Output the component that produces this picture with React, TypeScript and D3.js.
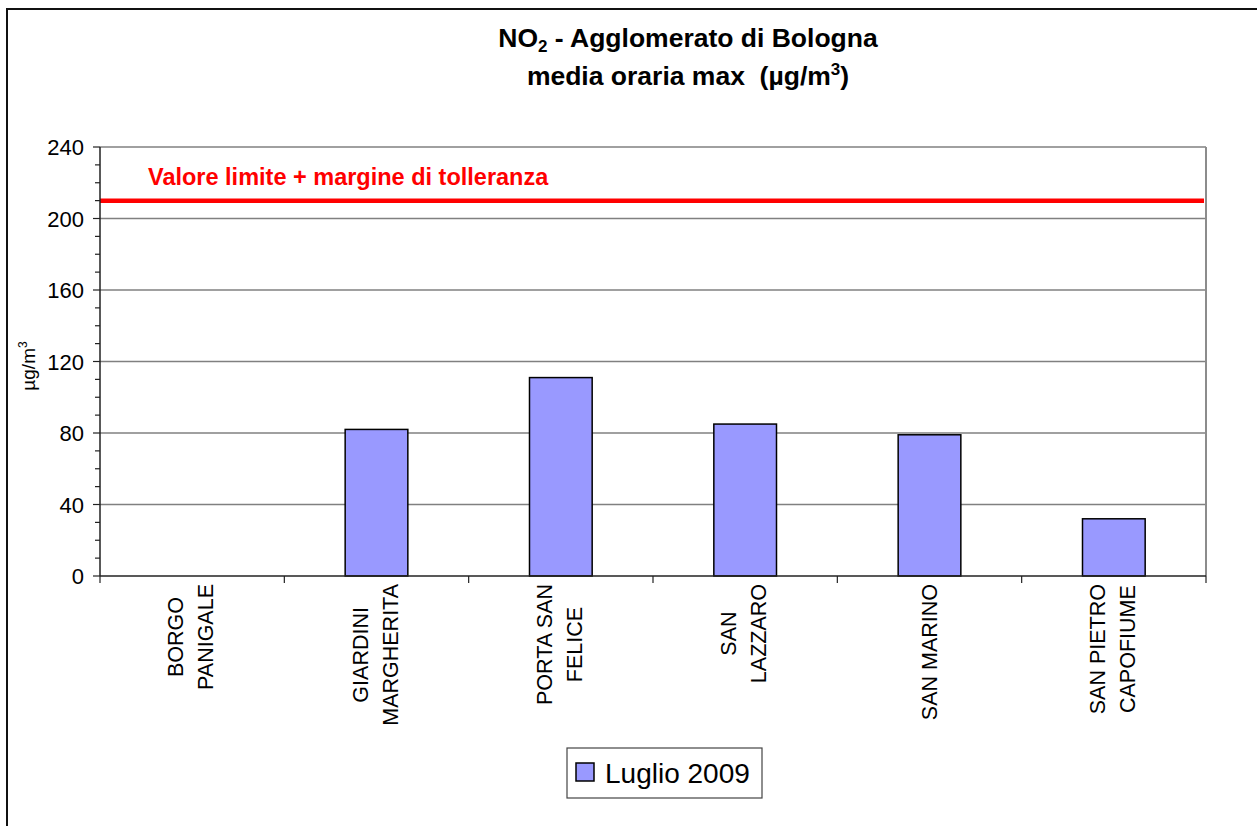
import React, { useRef, useEffect } from 'react';
import * as d3 from 'd3';

// stazioni e valori (media oraria max, luglio 2009)
const stations = [
  ['BORGO', 'PANIGALE'],
  ['GIARDINI', 'MARGHERITA'],
  ['PORTA SAN', 'FELICE'],
  ['SAN', 'LAZZARO'],
  ['SAN MARINO'],
  ['SAN PIETRO', 'CAPOFIUME'],
];
const july2009: (number | null)[] = [null, 82, 111, 85, 79, 32];
const yTicks = [0, 40, 80, 120, 160, 200, 240];
const limitValue = 210;
const limitLabel = 'Valore limite + margine di tolleranza';
const seriesName = 'Luglio 2009';

const App = () => {
  const svgRef = useRef<SVGSVGElement>(null);
  const width = 1257;
  const height = 826;
  const plot = { left: 100, right: 1206, top: 147, bottom: 576 };

  useEffect(() => {
    const svg = d3.select(svgRef.current);
    svg.selectAll('*').remove();
    const font = 'Arial, "Liberation Sans", sans-serif';

    const keys = stations.map(s => s.join(' '));
    const x = d3.scaleBand().domain(keys).range([plot.left, plot.right]).padding(0);
    const y = d3.scaleLinear().domain([0, 240]).range([plot.bottom, plot.top]);

    // outer chart frame
    svg.append('rect')
      .attr('x', 7).attr('y', 9)
      .attr('width', 1300).attr('height', 900)
      .attr('fill', 'white')
      .attr('stroke', '#111').attr('stroke-width', 2);

    // title
    const title = svg.append('text')
      .attr('font-family', font).attr('font-weight', 'bold').attr('font-size', 26.5)
      .attr('text-anchor', 'middle').style('white-space', 'pre');
    const t1 = title.append('tspan').attr('x', 688).attr('y', 47);
    t1.append('tspan').text('NO');
    t1.append('tspan').attr('font-size', 17).attr('dy', 5).text('2');
    t1.append('tspan').attr('dy', -5).text(' - Agglomerato di Bologna');
    const t2 = title.append('tspan').attr('x', 688).attr('y', 85);
    t2.append('tspan').text('media oraria max  (µg/m');
    t2.append('tspan').attr('font-size', 17).attr('dy', -10).text('3');
    t2.append('tspan').attr('dy', 10).text(')');

    // gridlines
    svg.append('g')
      .selectAll('line')
      .data(yTicks.filter(d => d > 0))
      .join('line')
      .attr('x1', plot.left).attr('x2', plot.right)
      .attr('y1', d => y(d)).attr('y2', d => y(d))
      .attr('stroke', '#808080').attr('stroke-width', 1.5);

    // plot border right
    svg.append('line')
      .attr('x1', plot.right).attr('x2', plot.right)
      .attr('y1', plot.top).attr('y2', plot.bottom)
      .attr('stroke', '#8c8c8c').attr('stroke-width', 2);

    // bars
    const barW = x.bandwidth() * 0.34;
    svg.append('g')
      .selectAll('rect')
      .data(keys.map((k, i) => ({ k, v: july2009[i] })).filter(d => d.v != null))
      .join('rect')
      .attr('x', d => (x(d.k) as number) + x.bandwidth() / 2 - barW / 2)
      .attr('y', d => y(d.v as number))
      .attr('width', barW)
      .attr('height', d => plot.bottom - y(d.v as number))
      .attr('fill', '#9999FF')
      .attr('stroke', '#000').attr('stroke-width', 1.5);

    // limit line
    svg.append('line')
      .attr('x1', plot.left).attr('x2', plot.right - 2)
      .attr('y1', y(limitValue)).attr('y2', y(limitValue))
      .attr('stroke', '#FF0000').attr('stroke-width', 4.5);
    svg.append('text')
      .attr('x', 148).attr('y', 185)
      .attr('font-family', font).attr('font-weight', 'bold').attr('font-size', 23.5)
      .attr('fill', '#FF0000')
      .text(limitLabel);

    // y axis
    const yAxis = svg.append('g').attr('stroke', '#222');
    yAxis.append('line')
      .attr('x1', plot.left).attr('x2', plot.left)
      .attr('y1', plot.top).attr('y2', plot.bottom)
      .attr('stroke-width', 1.5);
    yAxis.selectAll('line.minor')
      .data(d3.range(0, 241, 10))
      .join('line')
      .attr('class', 'minor')
      .attr('x1', d => (d % 40 === 0 ? plot.left - 7 : plot.left - 5)).attr('x2', plot.left)
      .attr('y1', d => y(d)).attr('y2', d => y(d))
      .attr('stroke-width', 1.2);
    svg.append('g')
      .selectAll('text')
      .data(yTicks)
      .join('text')
      .attr('x', plot.left - 16)
      .attr('y', d => y(d) + 8)
      .attr('text-anchor', 'end')
      .attr('font-family', font).attr('font-size', 22)
      .text(d => d);

    // y label
    const yl = svg.append('text')
      .attr('transform', 'translate(35,366) rotate(-90)')
      .attr('text-anchor', 'middle')
      .attr('font-family', font).attr('font-size', 19);
    yl.append('tspan').text('µg/m');
    yl.append('tspan').attr('font-size', 12).attr('dy', -8).text('3');

    // x axis
    const xAxis = svg.append('g').attr('stroke', '#222');
    xAxis.append('line')
      .attr('x1', plot.left).attr('x2', plot.right)
      .attr('y1', plot.bottom).attr('y2', plot.bottom)
      .attr('stroke-width', 1.5);
    xAxis.selectAll('line.tick')
      .data([...keys.map(k => x(k) as number), plot.right])
      .join('line')
      .attr('class', 'tick')
      .attr('x1', d => d).attr('x2', d => d)
      .attr('y1', plot.bottom).attr('y2', plot.bottom + 7)
      .attr('stroke-width', 1.2);

    // category labels, rotated, centered lines
    const lineGap = 30;
    stations.forEach((lines, i) => {
      const cx = (x(keys[i]) as number) + x.bandwidth() / 2;
      const g = svg.append('g');
      const texts = lines.map((ln, j) => {
        const off = (j - (lines.length - 1) / 2) * lineGap + (lines.length > 1 ? 6 : 7.5);
        return g.append('text')
          .attr('font-family', font).attr('font-size', 21.5)
          .attr('text-anchor', 'middle')
          .attr('data-off', off)
          .text(ln);
      });
      const maxLen = d3.max(texts, t => (t.node() as SVGTextElement).getComputedTextLength()) || 0;
      const cy = plot.bottom + 8 + maxLen / 2;
      texts.forEach(t => {
        const off = +t.attr('data-off');
        t.attr('transform', `translate(${cx + off},${cy}) rotate(-90)`);
      });
    });

    // legend
    const lg = svg.append('g');
    lg.append('rect')
      .attr('x', 567).attr('y', 748).attr('width', 195).attr('height', 50)
      .attr('fill', 'white').attr('stroke', '#444').attr('stroke-width', 1.2);
    lg.append('rect')
      .attr('x', 576).attr('y', 763).attr('width', 18).attr('height', 18)
      .attr('fill', '#9999FF').attr('stroke', '#000').attr('stroke-width', 1.5);
    lg.append('text')
      .attr('x', 605).attr('y', 783)
      .attr('font-family', font).attr('font-size', 28)
      .text(seriesName);
  }, []);

  return (
    <svg
      ref={svgRef}
      width={width}
      height={height}
      style={{ position: 'absolute', left: 0, top: 0, background: 'white' }}
    />
  );
};

export default App;
